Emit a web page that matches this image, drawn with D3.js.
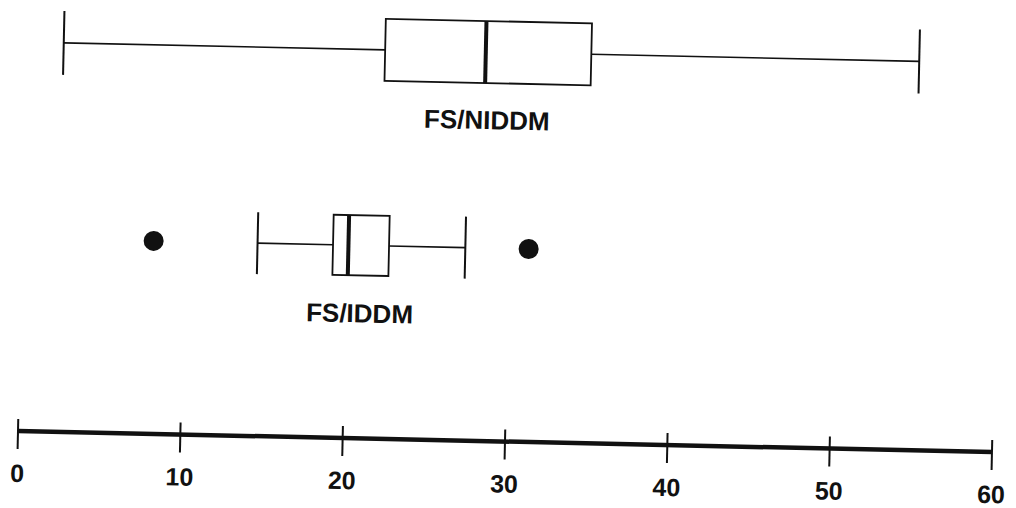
<!DOCTYPE html>
<html>
<head>
<meta charset="utf-8">
<script src="https://cdn.jsdelivr.net/npm/d3@7"></script>
<style>
  body { margin: 0; background: #fff; }
  svg { display: block; }
  text { font-family: "Liberation Sans", Arial, Helvetica, sans-serif; font-weight: bold; fill: #111; }
</style>
</head>
<body>
<div id="chart"></div>
<script>
// groups, bottom to top
const groups = ["FS/IDDM", "FS/NIDDM"];
const whiskerLow = [14.5, 2.3];
const q1 = [19.15, 22.1];
const median = [20.1, 28.3];
const q3 = [22.6, 34.8];
const whiskerHigh = [27.3, 55.0];
const outliers = [[8.1, 31.2], []];
const tickValues = [0, 10, 20, 30, 40, 50, 60];

const width = 1016;
const height = 508;
const origin = { x: 18, y: 431 };
const tilt = 1.24; // the scan is slightly rotated

const svg = d3.select("#chart")
  .append("svg")
  .attr("width", width)
  .attr("height", height);

const g = svg.append("g")
  .attr("transform", `translate(${origin.x},${origin.y}) rotate(${tilt})`);

const x = d3.scaleLinear().domain([0, 60]).range([0, 974.2]);

const y = d3.scalePoint().domain(groups).range([-193, -389]);

const boxHalf = [30, 31];
const capHalf = [31, 32];

const data = groups.map((name, i) => ({
  name,
  lo: whiskerLow[i],
  q1: q1[i],
  med: median[i],
  q3: q3[i],
  hi: whiskerHigh[i],
  out: outliers[i],
  bh: boxHalf[i],
  ch: capHalf[i]
}));

const box = g.selectAll("g.box")
  .data(data)
  .enter()
  .append("g")
  .attr("class", "box")
  .attr("transform", (d) => `translate(0,${y(d.name)})`);

// whisker lines
box.append("line")
  .attr("x1", (d) => x(d.lo))
  .attr("x2", (d) => x(d.q1))
  .attr("stroke", "#111")
  .attr("stroke-width", 1.6);

box.append("line")
  .attr("x1", (d) => x(d.q3))
  .attr("x2", (d) => x(d.hi))
  .attr("stroke", "#111")
  .attr("stroke-width", 1.6);

// caps
box.selectAll("line.cap")
  .data((d) => [d.lo, d.hi].map((v) => ({ v, ch: d.ch })))
  .enter()
  .append("line")
  .attr("class", "cap")
  .attr("x1", (c) => x(c.v))
  .attr("x2", (c) => x(c.v))
  .attr("y1", (c) => -c.ch)
  .attr("y2", (c) => c.ch)
  .attr("stroke", "#111")
  .attr("stroke-width", 2);

// box
box.append("rect")
  .attr("x", (d) => x(d.q1))
  .attr("width", (d) => x(d.q3) - x(d.q1))
  .attr("y", (d) => -d.bh)
  .attr("height", (d) => 2 * d.bh)
  .attr("fill", "none")
  .attr("stroke", "#111")
  .attr("stroke-width", 1.8);

// median
box.append("line")
  .attr("x1", (d) => x(d.med))
  .attr("x2", (d) => x(d.med))
  .attr("y1", (d) => -d.bh)
  .attr("y2", (d) => d.bh)
  .attr("stroke", "#111")
  .attr("stroke-width", 4);

// outliers
box.selectAll("circle")
  .data((d) => d.out)
  .enter()
  .append("circle")
  .attr("cx", (v) => x(v))
  .attr("cy", 0)
  .attr("r", 10)
  .attr("fill", "#111");

// group labels under each box
box.append("text")
  .attr("x", (d) => x((d.q1 + d.q3) / 2))
  .attr("y", 77)
  .attr("text-anchor", "middle")
  .style("font-size", "26px")
  .text((d) => d.name);

// axis
const axis = g.append("g");

axis.append("line")
  .attr("x1", x(0))
  .attr("x2", x(60))
  .attr("stroke", "#111")
  .attr("stroke-width", 4.5);

axis.selectAll("line.tick")
  .data(tickValues)
  .enter()
  .append("line")
  .attr("class", "tick")
  .attr("x1", (d) => x(d))
  .attr("x2", (d) => x(d))
  .attr("y1", -12)
  .attr("y2", 18)
  .attr("stroke", "#111")
  .attr("stroke-width", 2);

axis.selectAll("text")
  .data(tickValues)
  .enter()
  .append("text")
  .attr("x", (d) => x(d))
  .attr("y", 51)
  .attr("text-anchor", "middle")
  .style("font-size", "25px")
  .text((d) => d);
</script>
</body>
</html>
